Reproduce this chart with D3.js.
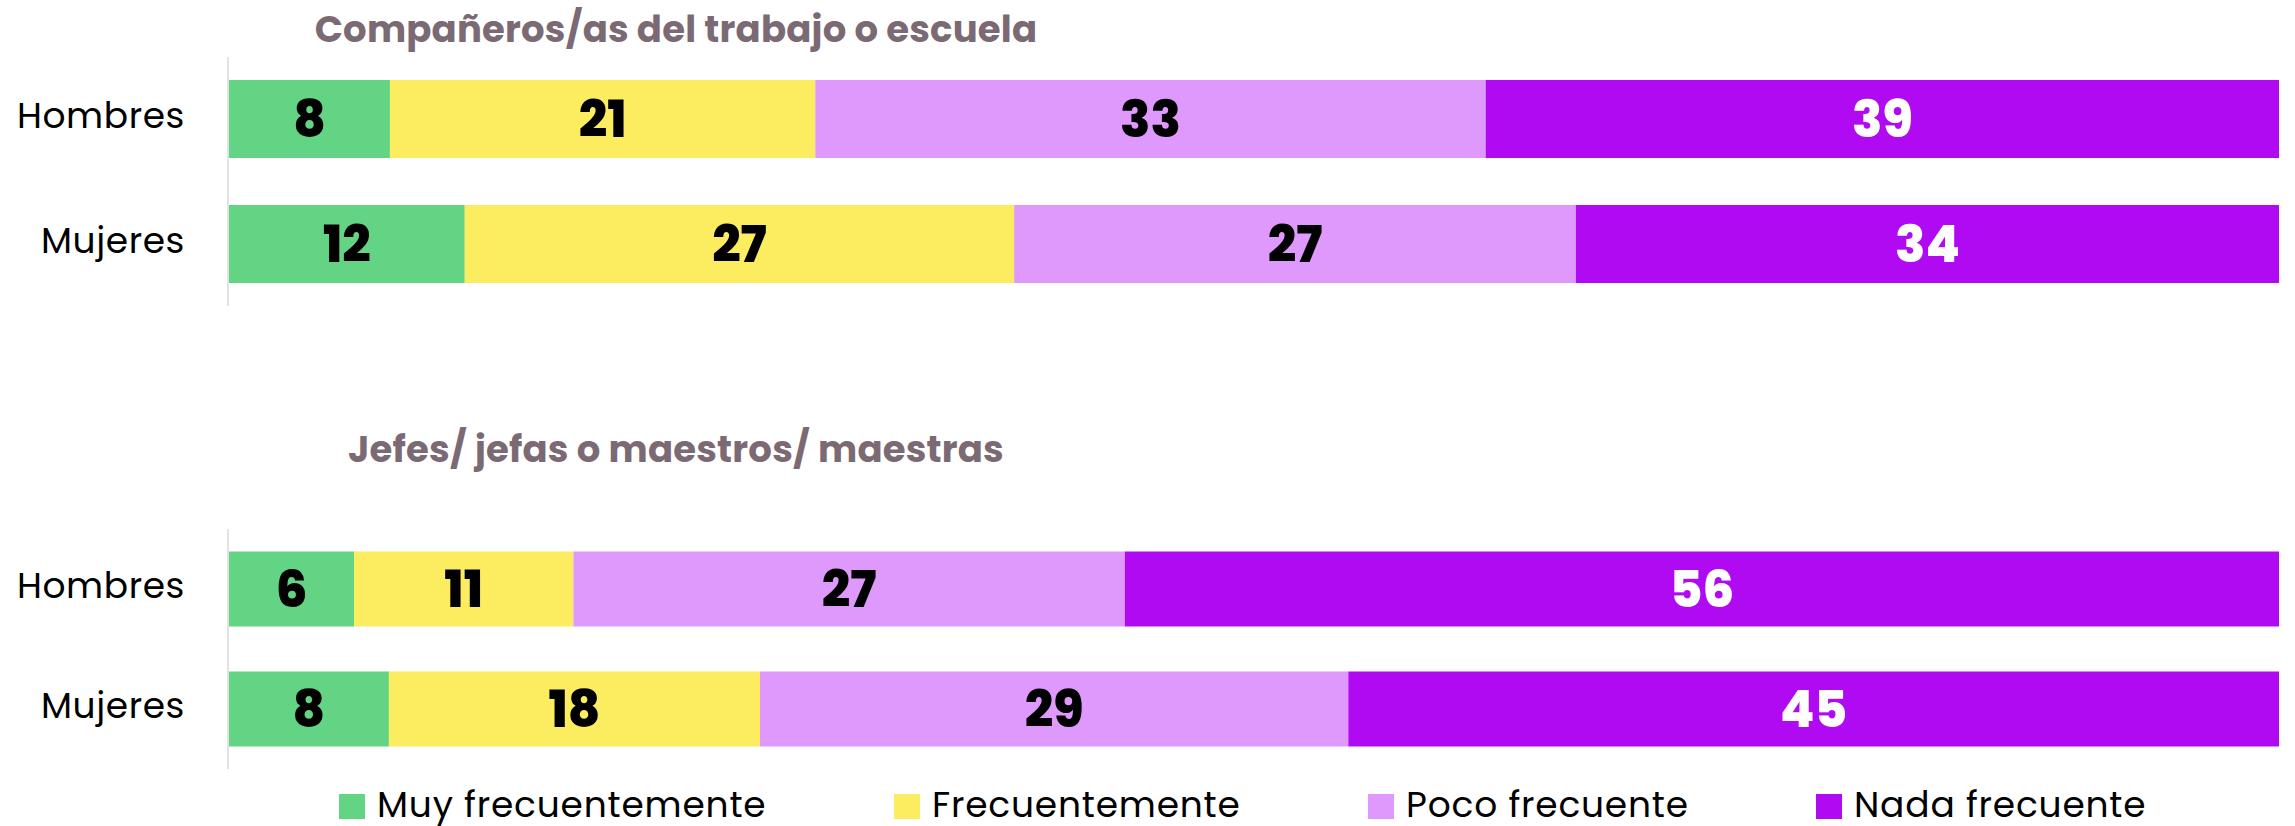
<!DOCTYPE html>
<html>
<head>
<meta charset="utf-8">
<script src="https://cdn.jsdelivr.net/npm/d3@7"></script>
<style>
  html, body { margin: 0; padding: 0; background: #ffffff; }
  svg { display: block; }
</style>
</head>
<body>
<svg id="chart" width="2295" height="826"></svg>
<script>
// ---- Data (percent; labels show rounded values) ----
const categories = ["Hombres", "Mujeres"];
const seriesNames = ["Muy frecuentemente", "Frecuentemente", "Poco frecuente", "Nada frecuente"];
const panelTitles = ["Compañeros/as del trabajo o escuela", "Jefes/ jefas o maestros/ maestras"];
// panel 1: Compañeros/as del trabajo o escuela
const companerosHombres = [7.85, 20.75, 32.7, 38.7];
const companerosMujeres = [11.5, 26.8, 27.4, 34.3];
// panel 2: Jefes/ jefas o maestros/ maestras
const jefesHombres = [6.1, 10.7, 26.9, 56.3];
const jefesMujeres = [7.8, 18.1, 28.7, 45.4];

const colors = ["#63d384", "#fcec5f", "#df99fd", "#b00af3"];
const labelColors = ["#000000", "#000000", "#000000", "#ffffff"];

const svg = d3.select("#chart");

const x = d3.scaleLinear().domain([0, 100]).range([229, 2279]);
const color = d3.scaleOrdinal().domain(seriesNames).range(colors);
const labelColor = d3.scaleOrdinal().domain(seriesNames).range(labelColors);

const panels = [
  { title: panelTitles[0], rows: [companerosHombres, companerosMujeres], range: [57, 306], pin: 0.376, pout: 0.184, titleY: 42 },
  { title: panelTitles[1], rows: [jefesHombres, jefesMujeres], range: [529, 769], pin: 0.375, pout: 0.1875, titleY: 462 }
];

const LABEL_FONT = "Poppins, 'Open Sans', sans-serif";
const VALUE_FONT = "Poppins, Inter, 'Open Sans', sans-serif";

panels.forEach(p => {
  const table = categories.map((c, i) => {
    const o = { cat: c };
    seriesNames.forEach((s, j) => o[s] = p.rows[i][j]);
    return o;
  });
  const stacked = d3.stack().keys(seriesNames)(table);
  const y = d3.scaleBand().domain(categories).range(p.range)
    .paddingInner(p.pin).paddingOuter(p.pout);

  const g = svg.append("g");

  // title
  g.append("text")
    .attr("x", 676).attr("y", p.titleY)
    .attr("text-anchor", "middle")
    .attr("font-family", LABEL_FONT)
    .attr("font-weight", 700)
    .attr("font-size", 37)
    .attr("letter-spacing", 0.2)
    .attr("fill", "#7b6a73")
    .text(p.title);

  // axis line
  g.append("line")
    .attr("x1", x(0) - 1).attr("x2", x(0) - 1)
    .attr("y1", p.range[0]).attr("y2", p.range[1])
    .attr("stroke", "#e2e2e2").attr("stroke-width", 2);

  // bars
  const layers = g.selectAll("g.layer").data(stacked).join("g")
    .attr("class", "layer")
    .attr("fill", d => color(d.key));

  layers.selectAll("rect").data(d => d.map(v => Object.assign(v, { key: d.key }))).join("rect")
    .attr("x", d => x(d[0]))
    .attr("width", d => x(d[1]) - x(d[0]))
    .attr("y", d => y(d.data.cat))
    .attr("height", y.bandwidth());

  // value labels
  layers.selectAll("text").data(d => d).join("text")
    .attr("x", d => (x(d[0]) + x(d[1])) / 2)
    .attr("y", d => y(d.data.cat) + y.bandwidth() / 2 + 18)
    .attr("text-anchor", "middle")
    .attr("font-family", VALUE_FONT)
    .attr("font-weight", 800)
    .attr("font-size", 50)
    .attr("fill", d => labelColor(d.key))
    .text(d => Math.round(d.data[d.key]));

  // category labels
  g.selectAll("text.cat").data(categories).join("text")
    .attr("class", "cat")
    .attr("x", 185)
    .attr("y", d => y(d) + y.bandwidth() / 2 + 9)
    .attr("text-anchor", "end")
    .attr("font-family", LABEL_FONT)
    .attr("font-size", 36)
    .attr("letter-spacing", 0.6)
    .attr("fill", "#000")
    .text(d => d);
});

// legend
const legendX = [339, 894, 1368, 1816];
const legend = svg.append("g").selectAll("g").data(seriesNames).join("g")
  .attr("transform", (d, i) => `translate(${legendX[i]},794)`);
legend.append("rect").attr("width", 26).attr("height", 25).attr("fill", d => color(d));
legend.append("text")
  .attr("x", 38).attr("y", 22.5)
  .attr("font-family", LABEL_FONT)
  .attr("font-size", 36)
  .attr("letter-spacing", 0.8)
  .attr("fill", "#000")
  .text(d => d);
</script>
</body>
</html>
